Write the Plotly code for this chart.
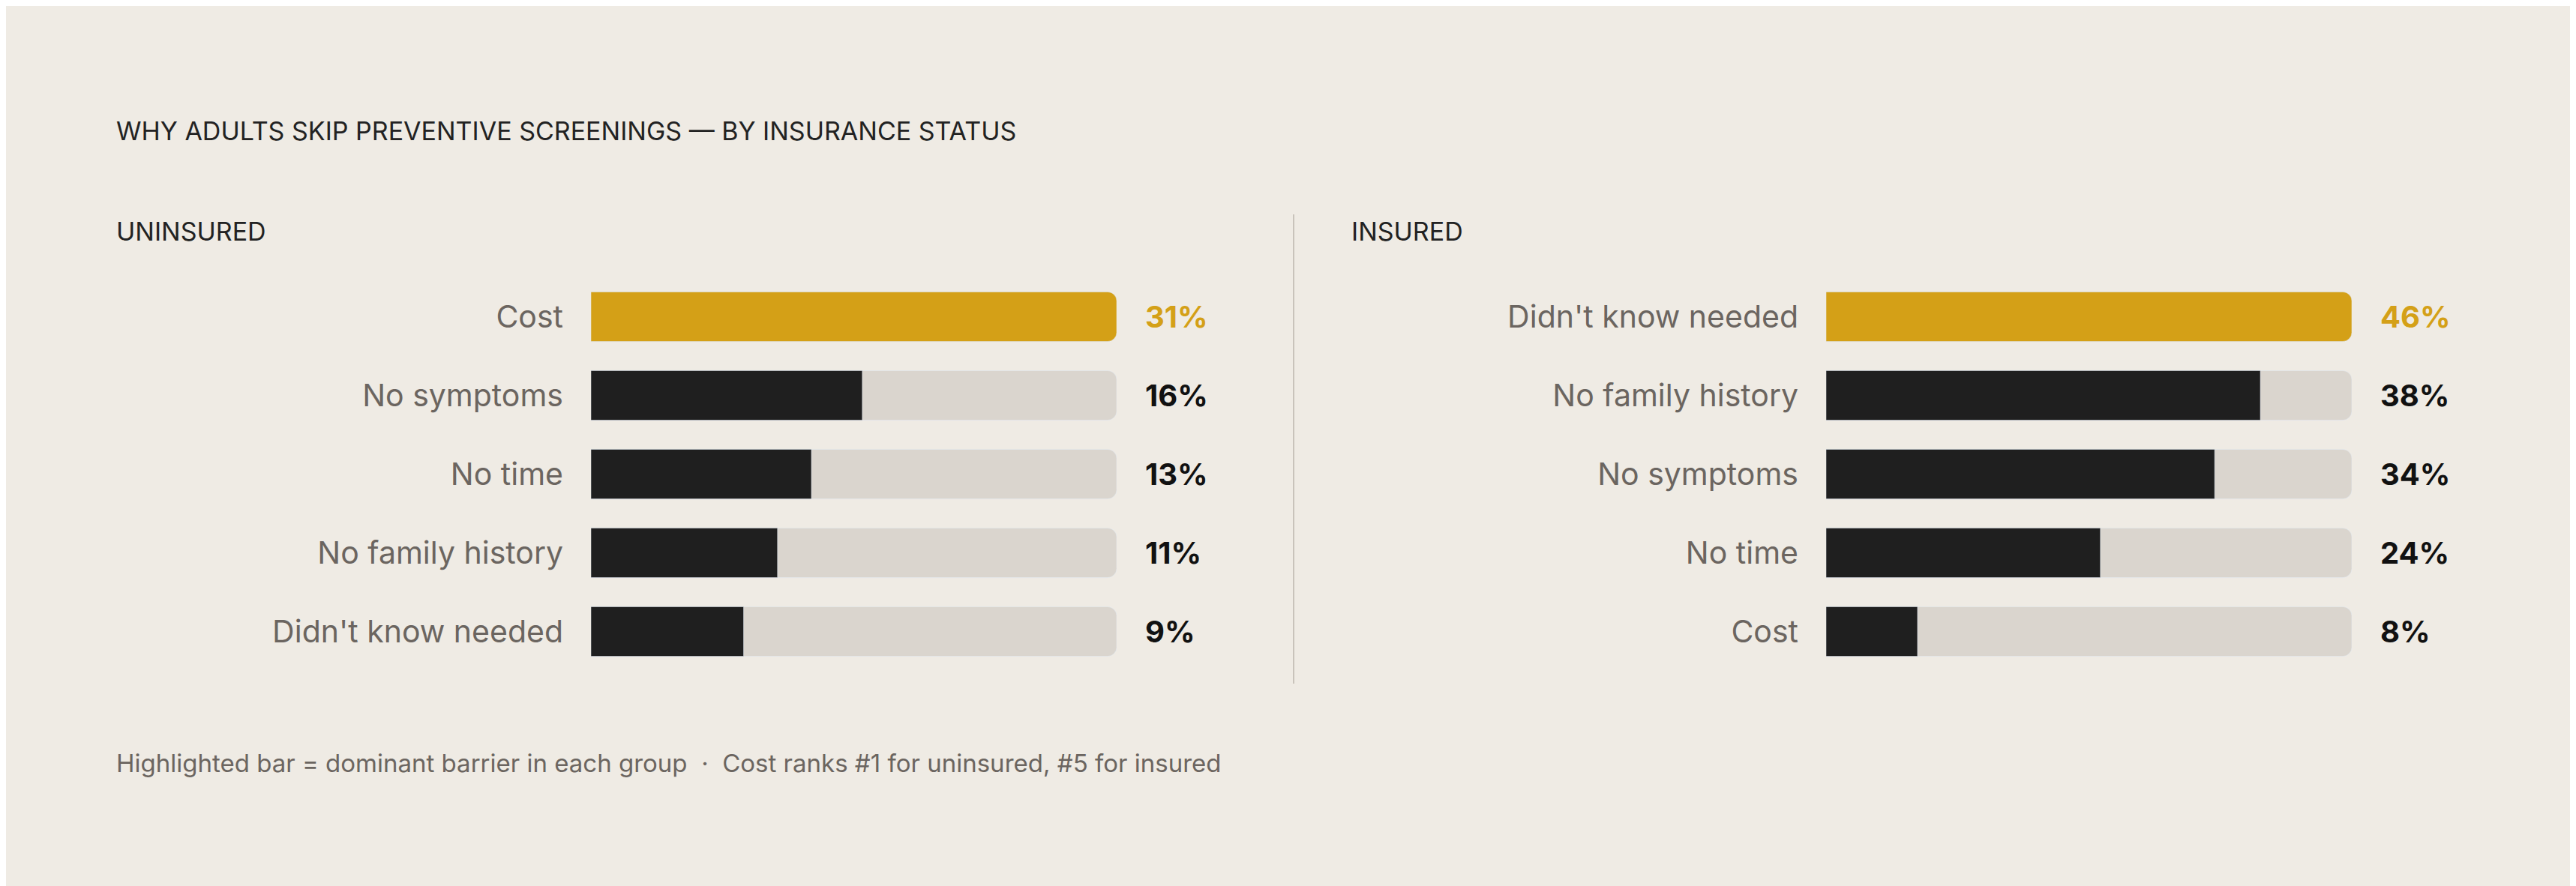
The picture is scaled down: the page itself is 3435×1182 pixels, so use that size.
import plotly.graph_objects as go

left_cats = ["Cost", "No symptoms", "No time", "No family history", "Didn't know needed"]
left_vals = [31, 16, 13, 11, 9]
right_cats = ["Didn't know needed", "No family history", "No symptoms", "No time", "Cost"]
right_vals = [46, 38, 34, 24, 8]

BG = "#EFEBE4"; TRACK = "#DAD5CE"; DARK = "#1F1F1F"; GOLD = "#D4A017"; GRAY = "#6B6560"
FONT = "Inter"

fig = go.Figure()
H = 1182
ydom = [1 - (835 + 52) / H, 1 - (414 - 52) / H]
panels = [(left_cats, left_vals, [780/3435, 1481/3435], "x", "y"),
          (right_cats, right_vals, [2427/3435, 3128/3435], "x2", "y2")]
ann = []
for i, (cats, vals, xd, xa, ya) in enumerate(panels):
    mx = max(vals)
    fig.add_bar(x=[mx]*len(cats), y=cats, orientation="h", marker_color=TRACK,
                width=0.63, xaxis=xa, yaxis=ya, hoverinfo="skip")
    cols = [GOLD if v == mx else DARK for v in vals]
    fig.add_bar(x=vals, y=cats, orientation="h", marker_color=cols,
                width=0.63, xaxis=xa, yaxis=ya)
    for c, v, col in zip(cats, vals, cols):
        ann.append(dict(x=mx, y=c, xref=xa, yref=ya, text=f"<b>{v}%</b>", showarrow=False,
                        xanchor="left", xshift=36, font=dict(size=40, color=GOLD if v == mx else "#111", family=FONT)))
    sfx = "" if i == 0 else "2"
    fig.layout["xaxis"+sfx] = dict(domain=xd, range=[0, mx], visible=False, fixedrange=True)
    fig.layout["yaxis"+sfx] = dict(domain=ydom, categoryorder="array", categoryarray=cats[::-1],
                                   range=[-0.5, 4.5], showgrid=False, zeroline=False, showline=False,
                                   ticks="", ticklabelstandoff=36, tickfont=dict(size=41, color=GRAY, family=FONT),
                                   anchor=xa)

ann += [
    dict(x=145/3435, y=1-166/H, text="WHY ADULTS SKIP PREVENTIVE SCREENINGS — BY INSURANCE STATUS",
         font=dict(size=34, color="#222", family=FONT)),
    dict(x=145/3435, y=1-300/H, text="UNINSURED", font=dict(size=34, color="#222", family=FONT)),
    dict(x=1792/3435, y=1-300/H, text="INSURED", font=dict(size=34, color="#222", family=FONT)),
    dict(x=145/3435, y=1-1010/H,
         text="Highlighted bar = dominant barrier in each group  ·  Cost ranks #1 for uninsured, #5 for insured",
         font=dict(size=33, color=GRAY, family=FONT)),
]
for a in ann[-4:]:
    a.update(xref="paper", yref="paper", showarrow=False, xanchor="left", yanchor="middle")

fig.update_layout(
    width=3435, height=1182, paper_bgcolor=BG, plot_bgcolor=BG, barmode="overlay",
    barcornerradius=12, showlegend=False, margin=dict(l=0, r=0, t=0, b=0),
    annotations=ann,
    shapes=[dict(type="line", xref="paper", yref="paper", x0=1717/3435, x1=1717/3435,
                 y0=1-278/H, y1=1-904/H, line=dict(color="#C9C3BB", width=2))],
)
fig.write_html("out.html")
